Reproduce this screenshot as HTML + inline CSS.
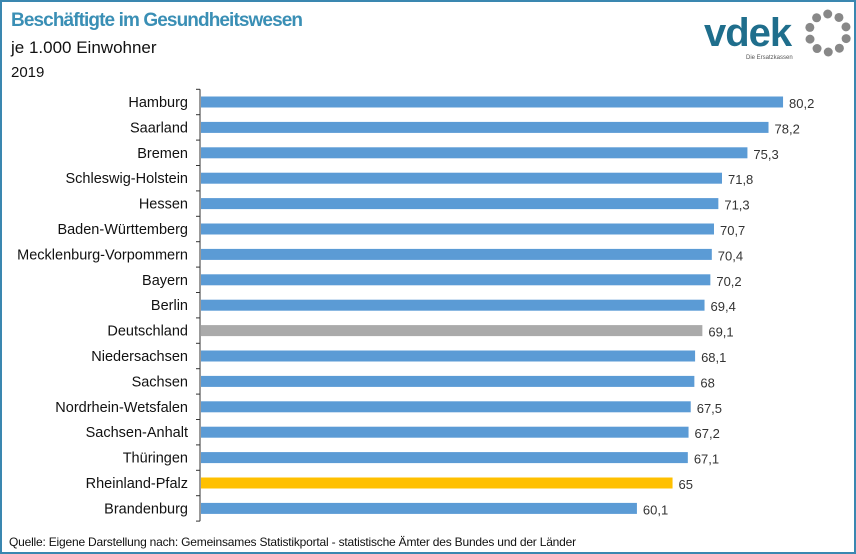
<!DOCTYPE html>
<html><head><meta charset="utf-8"><style>
html,body{margin:0;padding:0;background:#fff}
#wrap{position:relative;width:852px;height:550px;border:2px solid #3a87b0;font-family:"Liberation Sans",sans-serif;overflow:hidden}
.t1{position:absolute;left:9px;top:8px;font-size:19px;color:#3a8fb5;font-weight:bold;letter-spacing:-0.9px}
.t2{position:absolute;left:9px;top:36px;font-size:17px;color:#111}
.t3{position:absolute;left:9px;top:62px;font-size:15px;color:#111}
.src{position:absolute;left:7px;top:533px;font-size:12px;color:#111;letter-spacing:-0.2px}
</style></head><body>
<div id="wrap">
<div class="t1">Beschäftigte im Gesundheitswesen</div>
<div class="t2">je 1.000 Einwohner</div>
<div class="t3">2019</div>
<svg style="position:absolute;left:700px;top:6px" width="150" height="54">
<text x="2" y="38" font-family="Liberation Sans,sans-serif" font-weight="bold" font-size="40" fill="#1f6e8c" letter-spacing="-1">vdek</text>
<text x="44" y="51" font-family="Liberation Sans,sans-serif" font-size="6" fill="#555">Die Ersatzkassen</text>
<g fill="#888" id="dots"></g>
</svg>
<svg id="chart" width="852" height="530" style="position:absolute;left:0;top:0"></svg>
<div class="src">Quelle: Eigene Darstellung nach: Gemeinsames Statistikportal - statistische Ämter des Bundes und der Länder</div>
</div>
<script>
const categories=["Hamburg","Saarland","Bremen","Schleswig-Holstein","Hessen","Baden-Württemberg","Mecklenburg-Vorpommern","Bayern","Berlin","Deutschland","Niedersachsen","Sachsen","Nordrhein-Wetsfalen","Sachsen-Anhalt","Thüringen","Rheinland-Pfalz","Brandenburg"];
const values=[80.2,78.2,75.3,71.8,71.3,70.7,70.4,70.2,69.4,69.1,68.1,68,67.5,67.2,67.1,65,60.1];
const labels=["80,2","78,2","75,3","71,8","71,3","70,7","70,4","70,2","69,4","69,1","68,1","68","67,5","67,2","67,1","65","60,1"];
const NS="http://www.w3.org/2000/svg";
const svg=document.getElementById('chart');
const x0=198, scale=7.27, y0=100, step=25.4, bh=11;
const xs=v=>x0+v*scale, ys=i=>y0+i*step;
function mk(t,a){const e=document.createElementNS(NS,t);for(const k in a)e.setAttribute(k,a[k]);svg.appendChild(e);return e;}
const ax=mk('line',{x1:x0,x2:x0,y1:ys(0)-step/2,y2:ys(categories.length-1)+step/2,stroke:'#333','stroke-width':1});


for(let i=0;i<=categories.length;i++){
 const tk=mk('line',{x1:x0-4,x2:x0,y1:ys(i)-step/2,y2:ys(i)-step/2,stroke:'#333'});
 
 
}
categories.forEach((c,i)=>{
 const col=c==="Deutschland"?"#aaaaaa":c==="Rheinland-Pfalz"?"#ffc000":"#5b9bd5";
 const r=mk('rect',{x:x0+1,y:ys(i)-bh/2,width:xs(values[i])-x0-1,height:bh,fill:col});
 
 
 const t=mk('text',{x:x0-12,y:ys(i)+5,'text-anchor':'end','font-size':14.5,fill:'#111','font-family':'Liberation Sans,sans-serif'});
 t.textContent=c;
 
 
 const v=mk('text',{x:xs(values[i])+6,y:ys(i)+6,'font-size':13,fill:'#333','font-family':'Liberation Sans,sans-serif'});
 v.textContent=labels[i];
 
 
});
const g=document.getElementById('dots');
for(let k=0;k<10;k++){const a=k*Math.PI/5+0.3;const c=document.createElementNS(NS,'ellipse');
c.setAttribute('cx',126+19*Math.cos(a));c.setAttribute('cy',25+19*Math.sin(a));c.setAttribute('rx',4.5);c.setAttribute('ry',4.5);g.appendChild(c);}
</script>
</body></html>
